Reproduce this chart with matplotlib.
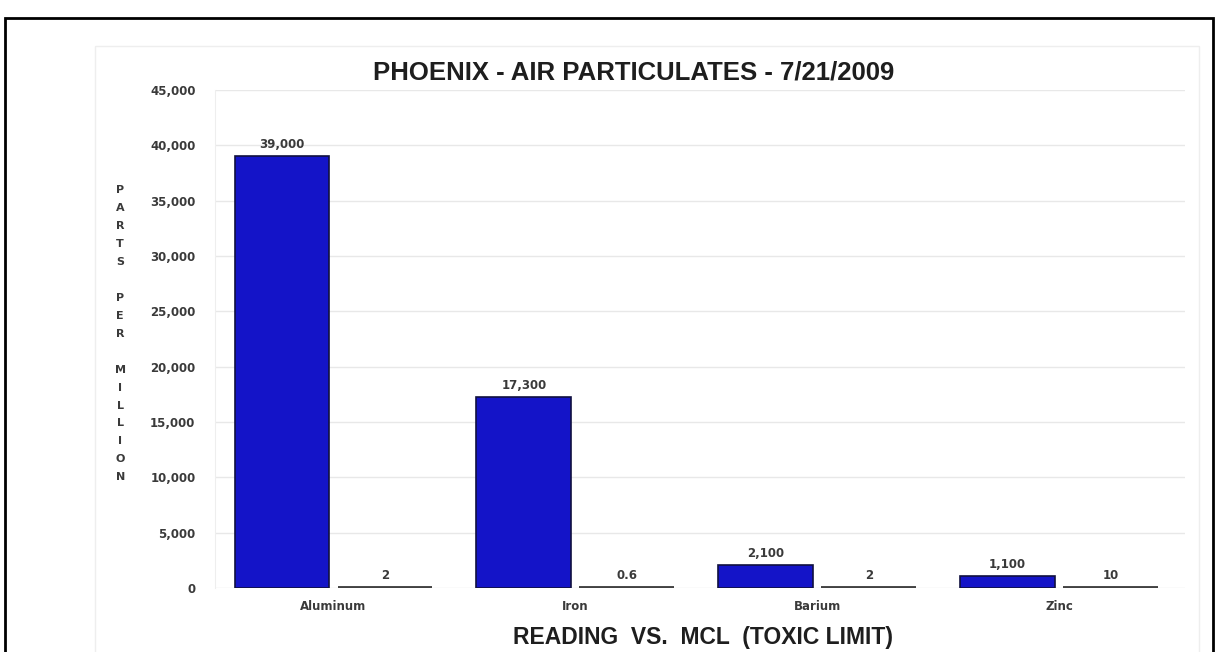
import numpy as np
import matplotlib
matplotlib.use('Agg')
from matplotlib import pyplot as plt
from matplotlib.patches import Rectangle

metals = ['Aluminum', 'Iron', 'Barium', 'Zinc']
reading = [39000, 17300, 2100, 1100]
mcl = [2, 0.6, 2, 10]
reading_labels = ['39,000', '17,300', '2,100', '1,100']
mcl_labels = ['2', '0.6', '2', '10']
yticks = [0, 5000, 10000, 15000, 20000, 25000, 30000, 35000, 40000, 45000]

plt.rcParams['font.family'] = ['Liberation Sans', 'DejaVu Sans']
small = dict(family='DejaVu Sans', fontsize=8.5, fontweight='bold', color='#3a3a3a')

fig = plt.figure(figsize=(12.2, 6.52), dpi=100)
ax = fig.add_axes([0.1762, 0.0982, 0.795, 0.7638])

x = np.arange(len(metals))
w = 0.392
off = 0.213

ax.bar(x - off, reading, w, color='#1414c8', edgecolor='#101040', linewidth=1.2, zorder=3)
ax.bar(x + off, mcl, w, color='#454545', edgecolor='#424242', linewidth=2.8, zorder=3)

for xi, v, t in zip(x, reading, reading_labels):
    ax.text(xi - off, v + 450, t, ha='center', va='bottom', **small)
for xi, v, t in zip(x, mcl, mcl_labels):
    ax.text(xi + off, v + 550, t, ha='center', va='bottom', **small)

ax.set_xlim(-0.49, 3.52)
ax.set_ylim(0, 45000)
ax.set_yticks(yticks)
ax.set_yticklabels(['{:,}'.format(t) for t in yticks], **small)
ax.set_xticks(x)
ax.set_xticklabels(metals, **small)
ax.tick_params(axis='y', length=0, pad=14)
ax.tick_params(axis='x', length=0, pad=9)
ax.yaxis.grid(True, color='#e8e8e8', linewidth=1, zorder=0)
for s in ['top', 'right', 'bottom']:
    ax.spines[s].set_visible(False)
ax.spines['left'].set_color('#eeeeee')

fig.text(0.519, 0.889, 'PHOENIX - AIR PARTICULATES - 7/21/2009', ha='center', va='center',
         fontsize=18.5, fontweight='bold', color='#1e1e1e')
fig.text(0.576, 0.023, 'READING  VS.  MCL  (TOXIC LIMIT)', ha='center', va='center',
         fontsize=16.5, fontweight='bold', color='#1e1e1e')

ylab = 'P\nA\nR\nT\nS\n\nP\nE\nR\n\nM\nI\nL\nL\nI\nO\nN'
fig.text(0.0985, 0.488, ylab, ha='center', va='center', family='DejaVu Sans', fontsize=8,
         fontweight='bold', linespacing=1.99, color='#3a3a3a')

# faint inner frame of the chart and the black outer frame
fig.patches.append(Rectangle((0.078, -0.1), 0.905, 1.03, transform=fig.transFigure, fill=False, edgecolor='#eeeeee', linewidth=1))
fig.patches.append(Rectangle((0.004, -0.1), 0.99, 1.072, transform=fig.transFigure, fill=False, edgecolor='black', linewidth=2))

fig.savefig('out.png', dpi=100)
